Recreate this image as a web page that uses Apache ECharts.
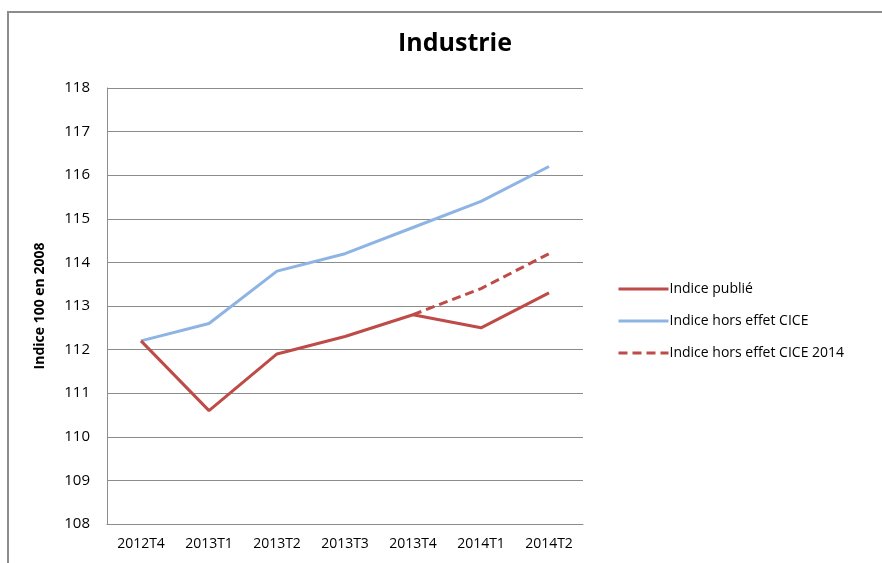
<!DOCTYPE html>
<html>
<head>
<meta charset="utf-8">
<script src="https://cdn.jsdelivr.net/npm/echarts@6/dist/echarts.min.js"></script>
<style>
  html, body { margin: 0; padding: 0; background: #fff; }
  #frame { position: absolute; left: 7px; top: 11px; width: 890px; height: 570px; border: 2px solid #8c8c8c; box-sizing: border-box; }
  #chart { position: absolute; left: 0; top: 0; width: 882px; height: 563px; }
</style>
</head>
<body>
<div id="frame"></div>
<div id="chart"></div>
<script>
// données
const categories = ['2012T4', '2013T1', '2013T2', '2013T3', '2013T4', '2014T1', '2014T2'];
const indicePublie = [112.2, 110.6, 111.9, 112.3, 112.8, 112.5, 113.3];
const horsCICE = [112.2, 112.6, 113.8, 114.2, 114.8, 115.4, 116.2];
const horsCICE2014 = [null, null, null, null, 112.8, 113.4, 114.2];

const rouge = '#BE4B48';
const bleu = '#8EB4E3';
const police = 'Open Sans';

let myChart = echarts.init(document.getElementById('chart'));
let option = {
    animation: false,
    title: {
        text: 'Industrie',
        left: 450,
        top: 26,
        textAlign: 'center',
        textStyle: { fontFamily: police, fontSize: 25, fontWeight: 'bold', color: '#000' }
    },
    legend: {
        orient: 'vertical',
        left: 612,
        top: 277,
        itemWidth: 50,
        itemHeight: 14,
        itemGap: 18,
        itemStyle: { opacity: 0 },
        lineStyle: { width: 3 },
        textStyle: { fontFamily: police, fontSize: 14, color: '#000', padding: [0, 0, 0, -4] },
        data: ['Indice publié', 'Indice hors effet CICE', 'Indice hors effet CICE 2014']
    },
    grid: { left: 107, right: 299, top: 88, bottom: 39 },
    xAxis: {
        type: 'category',
        data: categories,
        boundaryGap: true,
        axisLine: { lineStyle: { color: '#8c8c8c', width: 1 } },
        axisTick: { show: false },
        axisLabel: { fontFamily: police, fontSize: 14, color: '#000', margin: 13, interval: 0 }
    },
    yAxis: {
        type: 'value',
        min: 108,
        max: 118,
        interval: 1,
        name: 'Indice 100 en 2008',
        nameLocation: 'middle',
        nameGap: 60,
        nameTextStyle: { fontFamily: police, fontSize: 14, fontWeight: 'bold', color: '#000' },
        axisLine: { show: true, lineStyle: { color: '#8c8c8c', width: 1 } },
        axisTick: { show: false },
        axisLabel: { fontFamily: police, fontSize: 15, color: '#000', margin: 17 },
        splitLine: { lineStyle: { color: '#8c8c8c', width: 1 } }
    },
    series: [
        {
            name: 'Indice publié',
            type: 'line',
            data: indicePublie,
            symbol: 'none',
            z: 3,
            color: rouge,
            lineStyle: { color: rouge, width: 3 }
        },
        {
            name: 'Indice hors effet CICE',
            type: 'line',
            data: horsCICE,
            symbol: 'none',
            z: 2,
            color: bleu,
            lineStyle: { color: bleu, width: 3 }
        },
        {
            name: 'Indice hors effet CICE 2014',
            type: 'line',
            data: horsCICE2014,
            symbol: 'none',
            z: 2,
            color: rouge,
            lineStyle: { color: rouge, width: 3, type: [9, 5] }
        }
    ]
};
myChart.setOption(option);
window.addEventListener('resize', function () { myChart.resize() });
</script>
</body>
</html>
